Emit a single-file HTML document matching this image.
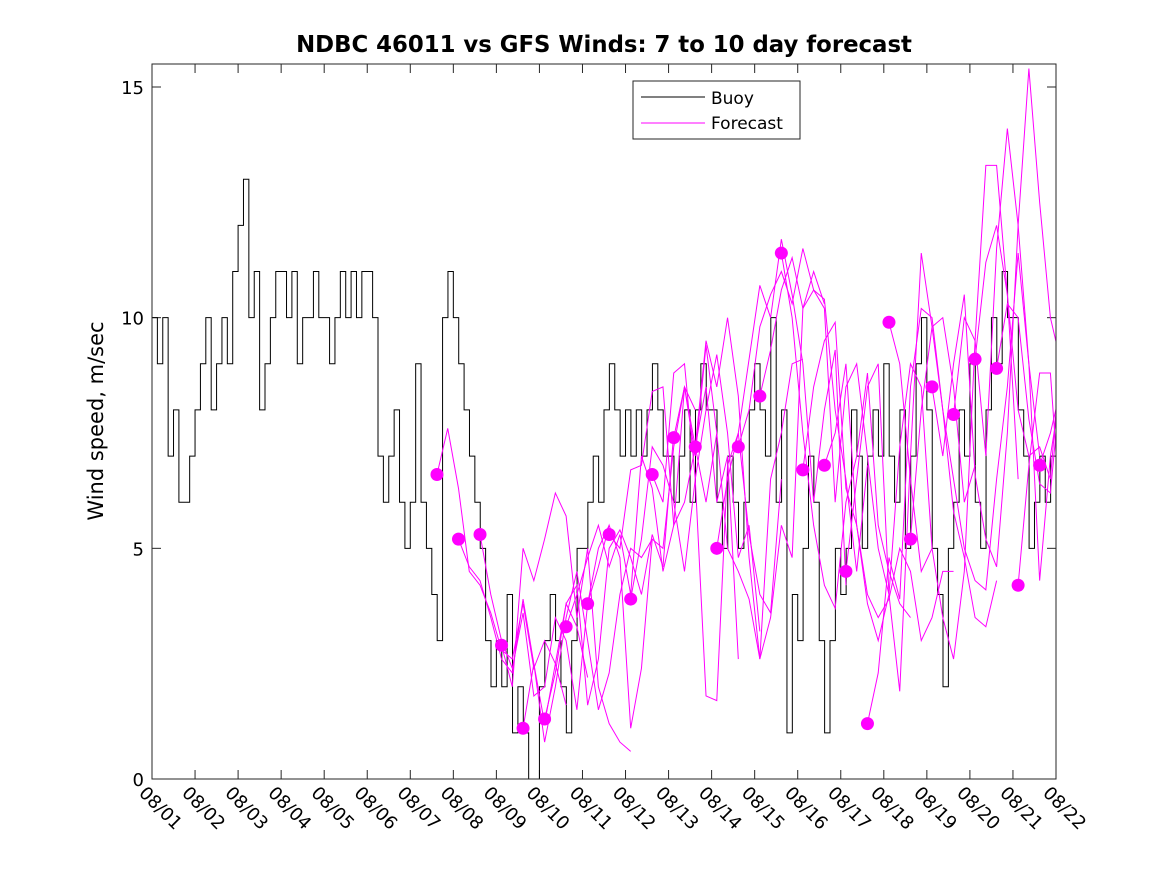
<!DOCTYPE html>
<html><head><meta charset="utf-8"><style>
body{margin:0;background:#fff;}
svg{display:block;font-family:"DejaVu Sans","Liberation Sans",sans-serif;}
</style></head><body>
<svg id="chart" width="1167" height="875" viewBox="0 0 1167 875" xmlns="http://www.w3.org/2000/svg">
<rect width="1167" height="875" fill="#fff"/>
<text x="604" y="52" text-anchor="middle" font-size="22.8" font-weight="bold">NDBC 46011 vs GFS Winds: 7 to 10 day forecast</text>
<text transform="translate(103,421) rotate(-90)" text-anchor="middle" font-size="21">Wind speed, m/sec</text>
<defs><clipPath id="pc"><rect x="152" y="64" width="904" height="715"/></clipPath></defs>
<g id="axes"></g>
<g id="buoy" clip-path="url(#pc)"></g>
<g id="fc" clip-path="url(#pc)"></g>
<g id="dots"></g>
<rect x="152" y="64" width="904" height="715" fill="none" stroke="#262626" stroke-width="1"/>
<g>
<rect x="633" y="81" width="167" height="58" fill="#fff" stroke="#262626" stroke-width="1"/>
<line x1="641" y1="97" x2="705" y2="97" stroke="#000" stroke-width="1"/>
<text x="711" y="104" font-size="17">Buoy</text>
<line x1="641" y1="123" x2="705" y2="123" stroke="#f0f" stroke-width="1"/>
<text x="711" y="129" font-size="17">Forecast</text>
</g>
</svg>
<script>
const xTickLabels=["08/01","08/02","08/03","08/04","08/05","08/06","08/07","08/08","08/09","08/10","08/11","08/12","08/13","08/14","08/15","08/16","08/17","08/18","08/19","08/20","08/21","08/22"];
const yTicks=[0,5,10,15];
const buoyVals=[10,9,10,7,8,6,6,7, 8,9,10,8,9,10,9,11, 12,13,10,11,8,9,10,11, 11,10,11,9,10,10,11,10, 10,9,10,11,10,11,10,11, 11,10,7,6,7,8,6,5, 6,9,6,5,4,3,10,11, 10,9,8,7,6,5,3,2, 3,2,4,1,2,1,0,0, 2,3,4,3,2,1,3,5, 5,6,7,6,8,9,8,7, 8,7,8,7,8,9,8,7, 7,6,7,8,6,8,9,8, 8,6,5,7,6,5,6,8, 9,8,7,10,6,8,1,4, 3,5,7,6,3,1,3,5, 4,5,8,7,5,7,8,7, 9,7,6,8,5,7,9,10, 8,5,4,2,5,6,8,7, 9,6,5,8,10,9,11,10, 10,8,7,5,6,7,6,7, 6];
const buoyStepDays=0.125;
const forecastStarts=[6.62,7.12,7.62,8.12,8.62,9.12,9.62,10.12,10.62,11.12,11.62,12.12,12.62,13.12,13.62,14.12,14.62,15.12,15.62,16.12,16.62,17.12,17.62,18.12,18.62,19.12,19.62,20.12,20.62];
const forecastStepDays=0.25;
const forecastVals=[
[6.6,7.6,6.3,4.5,4.2,3.6,2.8,2.6,3.8,2.4,3.0,2.5,1.6],
[5.2,4.6,4.3,3.5,2.6,2.3,3.9,2.5,1.2,2.5,3.8,3.3,2.2],
[5.3,4.0,3.0,2.4,3.6,1.8,2.0,3.5,3.0,1.5,3.8,5.0,5.5],
[2.9,2.0,5.0,4.3,5.2,6.2,5.7,3.5,5.0,2.0,1.2,0.8,0.6],
[1.1,2.5,0.8,2.0,3.5,4.5,3.0,1.5,2.3,4.0,5.0,4.8,5.2],
[1.3,2.3,3.8,4.2,1.6,2.6,5.0,5.4,4.8,4.0,5.3,4.6,7.5],
[3.3,4.0,4.8,5.5,4.6,5.3,4.0,7.0,6.3,4.5,5.5,8.5,8.0],
[3.8,4.6,5.5,4.8,1.1,2.4,5.2,5.0,7.2,8.5,7.0,9.4,7.5],
[5.3,5.0,6.7,6.8,8.4,8.5,5.5,6.0,7.2,8.5,6.0,7.0,2.6],
[3.9,5.2,7.2,6.8,6.0,4.5,6.5,8.0,9.2,7.5,4.8,5.5,3.2],
[6.6,6.0,8.8,9.0,6.5,1.8,1.7,6.8,7.5,5.3,4.0,3.6,6.5],
[7.4,8.5,7.2,9.5,8.5,10.0,8.3,4.8,2.6,6.5,7.5,9.0,9.1],
[7.2,6.0,7.5,5.0,4.5,3.9,2.6,3.5,5.5,4.8,10.2,11.0,10.3],
[5.0,6.5,7.5,9.1,10.7,10.0,11.7,10.5,9.0,6.0,8.0,9.3,4.2],
[7.2,8.0,9.8,10.5,11.0,10.3,11.5,10.6,10.4,8.0,6.5,4.5,6.8],
[8.3,9.3,10.6,11.3,10.2,10.6,10.2,6.0,8.5,9.0,7.0,5.0,4.0],
[11.4,10.0,7.5,5.5,4.2,3.7,6.0,7.0,8.8,5.5,4.5,3.8,3.5],
[6.7,8.5,9.5,9.9,6.3,5.5,3.8,3.0,4.0,7.2,9.0,8.5,5.0],
[6.8,7.5,9.0,5.5,4.0,3.5,3.9,5.0,4.5,3.0,3.5,4.5,4.5],
[4.5,6.5,8.5,9.0,4.0,1.9,7.0,11.4,9.8,10.0,8.5,6.0,6.8],
[1.2,2.3,4.8,3.9,8.5,10.2,10.0,8.0,5.8,4.8,3.5,3.3,4.3],
[9.9,9.0,6.5,4.5,5.0,3.5,2.6,4.5,9.5,13.3,13.3,10.5,6.5],
[5.2,8.0,9.8,8.0,6.5,5.0,4.3,4.1,6.5,8.5,11.4,9.0,7.0],
[8.5,7.0,9.0,10.5,6.6,5.2,4.6,7.5,12.0,15.4,12.5,10.0,9.0],
[7.9,10.0,9.5,7.0,11.5,14.1,12.0,9.0,4.3,7.0,8.5,7.0,6.2],
[9.1,11.2,12.0,10.5,8.0,7.0,7.2,6.5,9.3,11.7,9.0,7.5,6.0],
[8.9,10.3,10.0,7.8,6.4,6.2,8.7,9.0,10.6,12.8,14.2,11.0,6.4],
[4.2,6.8,8.8,8.8,5.5,4.6,4.7,8.0,7.9,8.4,6.2],
[6.8,7.5,8.5,7.0,5.4,4.6,4.8,5.3,5.2,7.4,7.6]
];
const NS="http://www.w3.org/2000/svg";
const X0=152,X1=1056,Y0=779,Y15=87;
const xs=d=>X0+(X1-X0)*d/21;
const ys=v=>Y0-(Y0-Y15)*v/15;
function mk(tag,attrs,parent){const e=document.createElementNS(NS,tag);for(const k in attrs)e.setAttribute(k,attrs[k]);parent.appendChild(e);return e;}
const axes=document.getElementById('axes');
xTickLabels.forEach((lab,i)=>{
  const x=xs(i);
  const t1=mk('line',{x1:x,y1:Y0,x2:x,y2:Y0-9,stroke:'#262626'},axes);
  
  
  const t2=mk('line',{x1:x,y1:64,x2:x,y2:73,stroke:'#262626'},axes);
  
  
  const tx=mk('text',{x:x-14,y:Y0+15,'font-size':18,transform:`rotate(45 ${x-14} ${Y0+15})`},axes);
  tx.textContent=lab;
  
  
});
yTicks.forEach(v=>{
  const y=ys(v);
  const a=mk('line',{x1:X0,y1:y,x2:X0+9,y2:y,stroke:'#262626'},axes);
  
  
  const b=mk('line',{x1:X1,y1:y,x2:X1-9,y2:y,stroke:'#262626'},axes);
  
  
  const tx=mk('text',{x:X0-8,y:y+7,'font-size':18,'text-anchor':'end'},axes);
  tx.textContent=v;
  
  
});
let d='';
buoyVals.forEach((v,i)=>{
  const x=xs(i*buoyStepDays),y=ys(v);
  if(i===0)d+=`M${x},${y}`;else d+=`V${y}`;
  d+=`H${xs(Math.min((i+1)*buoyStepDays,21))}`;
});
const bp=mk('path',{d:d,fill:'none',stroke:'#000','stroke-width':1},document.getElementById('buoy'));


const fc=document.getElementById('fc'),dots=document.getElementById('dots');
forecastVals.forEach((arr,k)=>{
  const s=forecastStarts[k];
  const pts=arr.map((v,i)=>`${xs(s+i*forecastStepDays)},${ys(v)}`).join(' ');
  const pl=mk('polyline',{points:pts,fill:'none',stroke:'#f0f','stroke-width':1},fc);
  
  
  const c=mk('circle',{cx:xs(s),cy:ys(arr[0]),r:6.5,fill:'#f0f'},dots);
  
  
});
</script>
</body></html>
